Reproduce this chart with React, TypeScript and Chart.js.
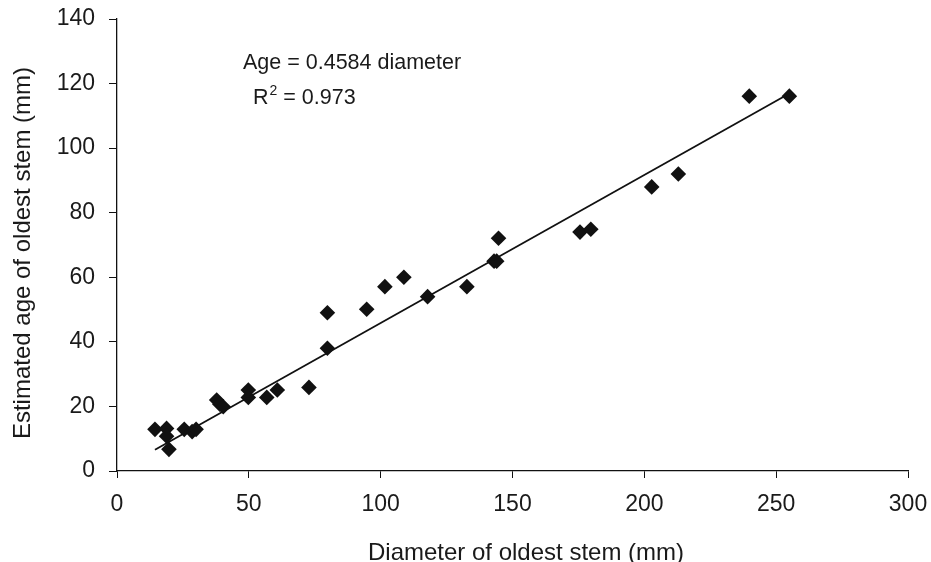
import React, { useEffect, useRef } from "react";
import { Chart, registerables } from "chart.js";

Chart.register(...registerables);

const diameters = [14.4, 18.8, 18.8, 19.7, 25.5, 28.5, 30, 37.8, 39, 40.3, 49.8, 49.8, 56.8, 60.8, 72.8, 79.8, 79.8, 94.7, 101.6, 108.8, 117.8, 132.7, 143, 144, 144.7, 175.6, 179.7, 202.8, 212.9, 239.8, 255];
const ages = [12.9, 13.2, 10.8, 6.7, 12.9, 12.2, 12.9, 22, 20.7, 19.9, 25.1, 22.8, 22.8, 25.1, 25.9, 49, 38, 50.1, 57.1, 60, 54, 57.1, 65, 65, 72.1, 74, 74.9, 88, 92, 116.1, 116.1];
const trendX = [14.4, 254];
const slope = 0.4584;
const equationText = "Age = 0.4584 diameter";
const r2Value = "0.973";
const xTitle = "Diameter of oldest stem (mm)";
const yTitle = "Estimated age of oldest stem (mm)";

const FONT = "'Liberation Sans', Arial, Helvetica, sans-serif";
const INK = "#1a1a1a";

const textPlugin = {
  id: "textLayer",
  afterDatasetsDraw(chart: any) {
    const { ctx } = chart;
    ctx.save();
    ctx.fillStyle = INK;
    ctx.textBaseline = "alphabetic";
    ctx.textAlign = "left";
    ctx.font = `21.5px ${FONT}`;
    ctx.fillText(equationText, 243, 69);
    const x0 = 253;
    const y1 = 104;
    ctx.fillText("R", x0, y1);
    const rw = ctx.measureText("R").width;
    ctx.font = `14px ${FONT}`;
    ctx.fillText("2", x0 + rw + 1, y1 - 9);
    const sw = ctx.measureText("2").width;
    ctx.font = `21.5px ${FONT}`;
    ctx.fillText(" = " + r2Value, x0 + rw + 1 + sw, y1);

    // axis titles
    ctx.font = `24px ${FONT}`;
    ctx.textAlign = "center";
    ctx.fillText(xTitle, 526, 560);
    ctx.translate(29.5, 253);
    ctx.rotate(-Math.PI / 2);
    ctx.fillText(yTitle, 0, 0);
    ctx.restore();
  },
};

export default function App() {
  const ref = useRef<HTMLCanvasElement | null>(null);
  useEffect(() => {
    if (!ref.current) return;
    const points = diameters.map((d, i) => ({ x: d, y: ages[i] }));
    const trend = trendX.map((x) => ({ x, y: slope * x }));
    const chart = new Chart(ref.current, {
      type: "scatter",
      data: {
        datasets: [
          {
            type: "line",
            data: trend,
            borderColor: "#111",
            borderWidth: 1.8,
            pointRadius: 0,
            fill: false,
          } as any,
          {
            data: points,
            pointStyle: "rectRot",
            pointRadius: 7.8,
            backgroundColor: "#111",
            borderColor: "#111",
            borderWidth: 0,
          },
        ],
      },
      options: {
        animation: false,
        responsive: true,
        maintainAspectRatio: false,
        layout: { padding: { left: 0, right: 23, top: 19, bottom: 0 } },
        plugins: { legend: { display: false }, tooltip: { enabled: false } },
        scales: {
          x: {
            type: "linear",
            min: 0,
            max: 300,
            ticks: { stepSize: 50, color: INK, font: { family: FONT, size: 23 }, padding: 13 },
            grid: { drawOnChartArea: false, drawTicks: true, tickLength: 7, color: "#111", lineWidth: 1 },
            border: { display: true, color: "#111", width: 1.3 },
            title: { display: false, text: xTitle },
            afterFit: (s: any) => {
              s.height = 91;
              s.paddingLeft = 0;
              s.paddingRight = 0;
            },
          },
          y: {
            type: "linear",
            min: 0,
            max: 140,
            ticks: { stepSize: 20, color: INK, font: { family: FONT, size: 23 }, padding: 14 },
            grid: { drawOnChartArea: false, drawTicks: true, tickLength: 8, color: "#111", lineWidth: 1 },
            border: { display: true, color: "#111", width: 1.3 },
            title: { display: false, text: yTitle },
            afterFit: (s: any) => {
              s.width = 117;
              s.paddingTop = 0;
              s.paddingBottom = 0;
            },
          },
        },
      },
      plugins: [textPlugin],
    });
    return () => chart.destroy();
  }, []);
  return (
    <div style={{ position: "fixed", left: 0, top: 0, width: 931, height: 562, background: "#fff" }}>
      <canvas ref={ref} />
    </div>
  );
}
